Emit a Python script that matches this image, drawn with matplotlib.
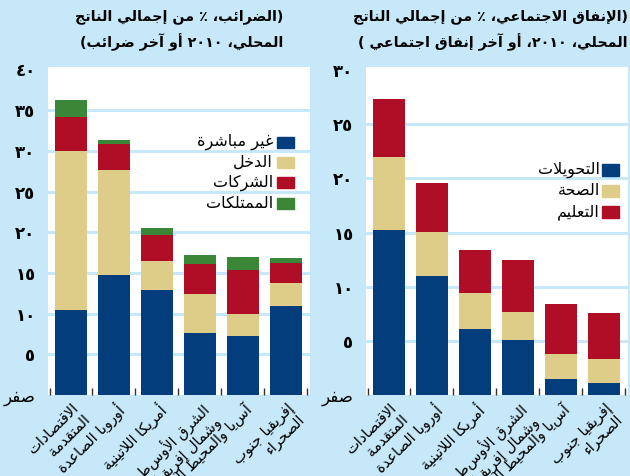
import re
import numpy as np
import matplotlib
matplotlib.use('Agg')
import matplotlib.pyplot as plt
from matplotlib.patches import Rectangle

# --- data ---
categories = ["الاقتصادات\nالمتقدمة", "أوروبا الصاعدة", "أمريكا اللاتينية",
              "الشرق الأوسط\nوشمال إفريقيا", "آسيا والمحيط الهادئ", "إفريقيا جنوب\nالصحراء"]

# social spending, % of GDP
spend_transfers = [15.2, 11.0, 6.1, 5.1, 1.5, 1.1]
spend_health = [6.8, 4.1, 3.3, 2.6, 2.3, 2.2]
spend_education = [5.3, 4.5, 4.0, 4.8, 4.6, 4.3]
spend_labels = ["التحويلات", "الصحة", "التعليم"]

# taxes, % of GDP
tax_indirect = [10.4, 14.8, 12.9, 7.6, 7.3, 10.9]
tax_personal = [19.6, 12.8, 3.6, 4.8, 2.7, 2.8]
tax_corporate = [4.2, 3.2, 3.2, 3.7, 5.3, 2.5]
tax_property = [2.0, 0.5, 0.8, 1.1, 1.6, 0.6]
tax_labels = ["غير مباشرة", "الدخل", "الشركات", "الممتلكات"]

tax_ticks = [0, 5, 10, 15, 20, 25, 30, 35, 40]
tax_tick_labels = ["صفر", "٥", "١٠", "١٥", "٢٠", "٢٥", "٣٠", "٣٥", "٤٠"]
spend_ticks = [0, 5, 10, 15, 20, 25, 30]
spend_tick_labels = ["صفر", "٥", "١٠", "١٥", "٢٠", "٢٥", "٣٠"]

tax_title = "(الضرائب، ٪ من إجمالي الناتج\nالمحلي، ٢٠١٠ أو آخر ضرائب)"
spend_title = "(الإنفاق الاجتماعي، ٪ من إجمالي الناتج\nالمحلي، ٢٠١٠، أو آخر إنفاق اجتماعي )"

bg = '#c6e8f8'
blue, beige, red, green = '#033d7c', '#ddcd89', '#b00d27', '#3b8737'


# --- arabic shaping: matplotlib does not join letters or do RTL ---
_forms = {
    '\u0621': ('\uFE80',),
    '\u0622': ('\uFE81', '\uFE82'), '\u0623': ('\uFE83', '\uFE84'),
    '\u0625': ('\uFE87', '\uFE88'), '\u0627': ('\uFE8D', '\uFE8E'),
    '\u0626': ('\uFE89', '\uFE8A', '\uFE8B', '\uFE8C'),
    '\u0628': ('\uFE8F', '\uFE90', '\uFE91', '\uFE92'),
    '\u0629': ('\uFE93', '\uFE94'),
    '\u062A': ('\uFE95', '\uFE96', '\uFE97', '\uFE98'),
    '\u062C': ('\uFE9D', '\uFE9E', '\uFE9F', '\uFEA0'),
    '\u062D': ('\uFEA1', '\uFEA2', '\uFEA3', '\uFEA4'),
    '\u062E': ('\uFEA5', '\uFEA6', '\uFEA7', '\uFEA8'),
    '\u062F': ('\uFEA9', '\uFEAA'), '\u0631': ('\uFEAD', '\uFEAE'),
    '\u0634': ('\uFEB5', '\uFEB6', '\uFEB7', '\uFEB8'),
    '\u0635': ('\uFEB9', '\uFEBA', '\uFEBB', '\uFEBC'),
    '\u0636': ('\uFEBD', '\uFEBE', '\uFEBF', '\uFEC0'),
    '\u0637': ('\uFEC1', '\uFEC2', '\uFEC3', '\uFEC4'),
    '\u0639': ('\uFEC9', '\uFECA', '\uFECB', '\uFECC'),
    '\u063A': ('\uFECD', '\uFECE', '\uFECF', '\uFED0'),
    '\u0641': ('\uFED1', '\uFED2', '\uFED3', '\uFED4'),
    '\u0642': ('\uFED5', '\uFED6', '\uFED7', '\uFED8'),
    '\u0643': ('\uFED9', '\uFEDA', '\uFEDB', '\uFEDC'),
    '\u0644': ('\uFEDD', '\uFEDE', '\uFEDF', '\uFEE0'),
    '\u0645': ('\uFEE1', '\uFEE2', '\uFEE3', '\uFEE4'),
    '\u0646': ('\uFEE5', '\uFEE6', '\uFEE7', '\uFEE8'),
    '\u0647': ('\uFEE9', '\uFEEA', '\uFEEB', '\uFEEC'),
    '\u0648': ('\uFEED', '\uFEEE'), '\u0649': ('\uFEEF', '\uFEF0'),
    '\u064A': ('\uFEF1', '\uFEF2', '\uFEF3', '\uFEF4'),
}
_lam_alef = {'\u0627': ('\uFEFB', '\uFEFC'), '\u0623': ('\uFEF7', '\uFEF8'),
             '\u0625': ('\uFEF9', '\uFEFA'), '\u0622': ('\uFEF5', '\uFEF6')}
_mirror = str.maketrans('()', ')(')


def _dual(c):
    return c in _forms and len(_forms[c]) == 4


def _joins(c):
    return c in _forms and len(_forms[c]) > 1


def shape_line(s):
    out = []
    i = 0
    while i < len(s):
        c = s[i]
        prev = s[i - 1] if i > 0 else ''
        nxt = s[i + 1] if i + 1 < len(s) else ''
        if c not in _forms:
            out.append(c)
            i += 1
            continue
        jp = _dual(prev) and _joins(c)
        if c == '\u0644' and nxt in _lam_alef:
            out.append(_lam_alef[nxt][1 if jp else 0])
            i += 2
            continue
        jn = _dual(c) and _joins(nxt)
        f = _forms[c]
        if len(f) == 1:
            out.append(f[0])
        elif jp and jn:
            out.append(f[3])
        elif jp:
            out.append(f[1])
        elif jn:
            out.append(f[2])
        else:
            out.append(f[0])
        i += 1
    return ''.join(out)


def ar(s):
    lines = []
    for line in s.split('\n'):
        runs = re.findall(r'[0-9\u0660-\u0669]+|[^0-9\u0660-\u0669]+', shape_line(line))
        parts = [r if r[0].isdigit() else r[::-1].translate(_mirror) for r in reversed(runs)]
        lines.append(''.join(parts))
    return '\n'.join(lines)


def draw_panel(ax, series, colors, ticks, tick_labels, ymax):
    x = np.arange(len(categories))
    bottom = np.zeros(len(categories))
    for vals, col in zip(series, colors):
        ax.bar(x, vals, 0.74, bottom=bottom, color=col, linewidth=0, zorder=2)
        bottom += np.array(vals)
    for v in ticks[1:-1]:
        ax.axhline(v, color=bg, linewidth=2.2, zorder=1)
    ax.set_xlim(-0.535, 5.56)
    ax.set_ylim(0, ymax)
    ax.set_yticks(ticks, labels=[ar(t) for t in tick_labels])
    ax.set_xticks(x, labels=[ar(c) for c in categories])
    ax.set_xticks(np.arange(-0.5, len(categories)), minor=True)
    ax.tick_params(axis='y', length=0, pad=9, labelsize=12)
    ax.tick_params(axis='x', which='major', length=0, pad=4, labelsize=10.5)
    ax.tick_params(axis='x', which='minor', direction='in', length=5, width=1, color='#333333')
    for lab in ax.get_yticklabels()[1:]:
        lab.set_fontweight('bold')
    for lab in ax.get_xticklabels():
        lab.set_rotation(45)
        lab.set_ha('right')
        lab.set_rotation_mode('anchor')
        lab.set_linespacing(1.05)
    for s in ax.spines.values():
        s.set_visible(False)
    ax.set_facecolor('white')


def add_legend(ax, labels, colors, x_right, y_top, step, gap):
    for i, (lab, col) in enumerate(zip(labels, colors)):
        y = y_top - i * step
        ax.add_patch(Rectangle((x_right - 0.065, y - 0.017), 0.065, 0.034,
                               transform=ax.transAxes, color=col, zorder=3, clip_on=False))
        ax.text(x_right - 0.065 - gap, y, ar(lab), transform=ax.transAxes,
                ha='right', va='center', fontsize=11.5, zorder=3)


fig = plt.figure(figsize=(6.3, 4.76), dpi=100, facecolor=bg)
ax_tax = fig.add_axes([48 / 630, 81 / 476, 262 / 630, 328 / 476])
ax_soc = fig.add_axes([366 / 630, 81 / 476, 262 / 630, 328 / 476])

draw_panel(ax_tax, [tax_indirect, tax_personal, tax_corporate, tax_property],
           [blue, beige, red, green], tax_ticks, tax_tick_labels, 40.3)
draw_panel(ax_soc, [spend_transfers, spend_health, spend_education],
           [blue, beige, red], spend_ticks, spend_tick_labels, 30.3)

add_legend(ax_tax, tax_labels, [blue, beige, red, green], 0.939, 0.771, 0.062, 0.015)
add_legend(ax_soc, spend_labels, [blue, beige, red], 0.966, 0.686, 0.064, 0.008)

# titles
t1, t2 = tax_title.split('\n')
fig.text(283 / 630, 1 - 17 / 476, ar(t1), ha='right', va='center', fontsize=10.3, fontweight='bold')
fig.text(283 / 630, 1 - 42 / 476, ar(t2), ha='right', va='center', fontsize=10.3, fontweight='bold')
s1, s2 = spend_title.split('\n')
fig.text(628 / 630, 1 - 17 / 476, ar(s1), ha='right', va='center', fontsize=10.3, fontweight='bold')
fig.text(628 / 630, 1 - 42 / 476, ar(s2), ha='right', va='center', fontsize=10.3, fontweight='bold')

fig.savefig('out.png', dpi=100, facecolor=bg)
